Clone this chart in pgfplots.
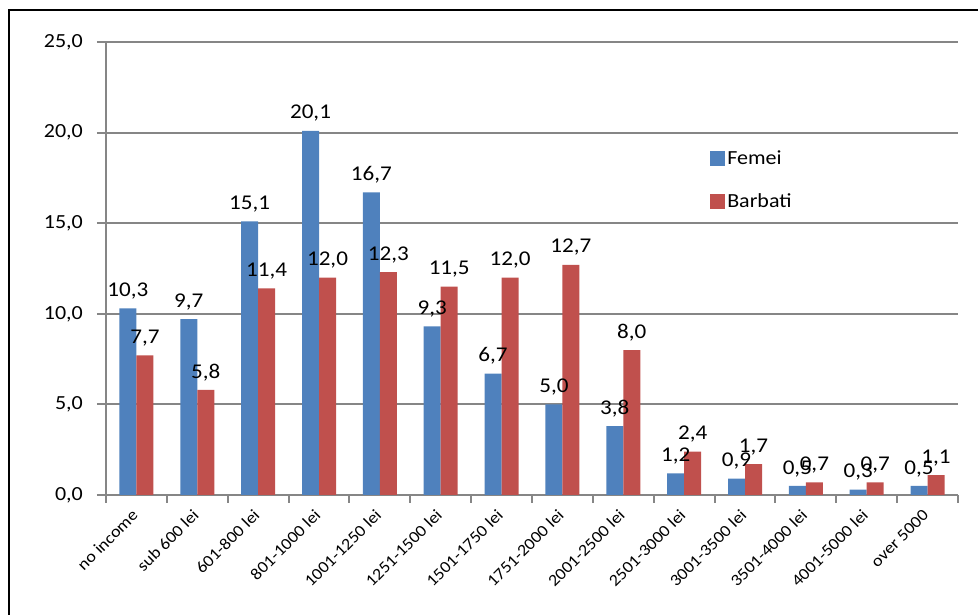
\documentclass[border=0pt]{standalone}
\usepackage{fontspec}
\setmainfont{Carlito}[FakeStretch=1.1]
\usepackage{pgfplots}
\pgfplotsset{compat=1.18}
\definecolor{fem}{HTML}{4F81BD}
\definecolor{bar}{HTML}{C0504D}
\definecolor{gr}{RGB}{134,134,134}
\begin{document}
\begin{tikzpicture}[x=1pt,y=1pt]
\useasboundingbox (0,0) rectangle (978,615);
\draw[line width=2pt] (9,-10) -- (9,605) -- (995,605);
\begin{axis}[
  at={(106pt,120pt)}, anchor=south west,
  scale only axis, width=852pt, height=453pt,
  xmin=-0.5, xmax=13.5, ymin=0, ymax=25,
  ybar=0pt, bar width=17pt,
  xtick={0,...,13},
  xticklabels={no income,sub 600 lei,601-800 lei,801-1000 lei,1001-1250 lei,1251-1500 lei,1501-1750 lei,1751-2000 lei,2001-2500 lei,2501-3000 lei,3001-3500 lei,3501-4000 lei,4001-5000 lei,over 5000},
  x tick label style={rotate=45, anchor=north east, font=\fontsize{16.5}{16.5}\selectfont, inner sep=0pt, xshift=-7pt, yshift=1pt},
  minor xtick={-0.5,0.5,...,13.5},
  major x tick style={draw=none},
  ytick={0,5,...,25},
  ymajorgrids,
  grid style={gr, line width=2pt},
  axis x line*=bottom, axis y line*=left,
  axis line style={gr, line width=2pt},
  tick style={gr, line width=2pt},
  tick align=outside,
  major tick length=9pt, minor tick length=8pt,
  y tick label style={font=\fontsize{20}{20}\selectfont, inner sep=0pt, xshift=-14pt},
  yticklabel style={/pgf/number format/.cd, fixed, fixed zerofill, precision=1, use comma, assume math mode=true},
  /pgf/number format/assume math mode=true,
  nodes near coords={\pgfmathprintnumber[fixed,fixed zerofill,precision=1,use comma,assume math mode=true]{\pgfplotspointmeta}},
  every node near coord/.append style={font=\fontsize{21}{21}\selectfont, text=black, inner sep=0pt, yshift=9pt},
  legend style={at={(rel axis cs:0.709,0.765)}, anchor=north west, draw=none, fill=none, font=\fontsize{20}{20}\selectfont, row sep=24pt, inner sep=0pt},
  legend cell align=left,
  legend image code/.code={\fill[#1,draw=none] (0pt,-7.5pt) rectangle (15pt,7.5pt);},
  clip=false,
]
\addplot[fill=fem, draw=none] coordinates {(0,10.3) (1,9.7) (2,15.1) (3,20.1) (4,16.7) (5,9.3) (6,6.7) (7,5.0) (8,3.8) (9,1.2) (10,0.9) (11,0.5) (12,0.3) (13,0.5)};
\addplot[fill=bar, draw=none] coordinates {(0,7.7) (1,5.8) (2,11.4) (3,12.0) (4,12.3) (5,11.5) (6,12.0) (7,12.7) (8,8.0) (9,2.4) (10,1.7) (11,0.7) (12,0.7) (13,1.1)};
\legend{Femei,Barbati}
\end{axis}
\end{tikzpicture}
\end{document}
